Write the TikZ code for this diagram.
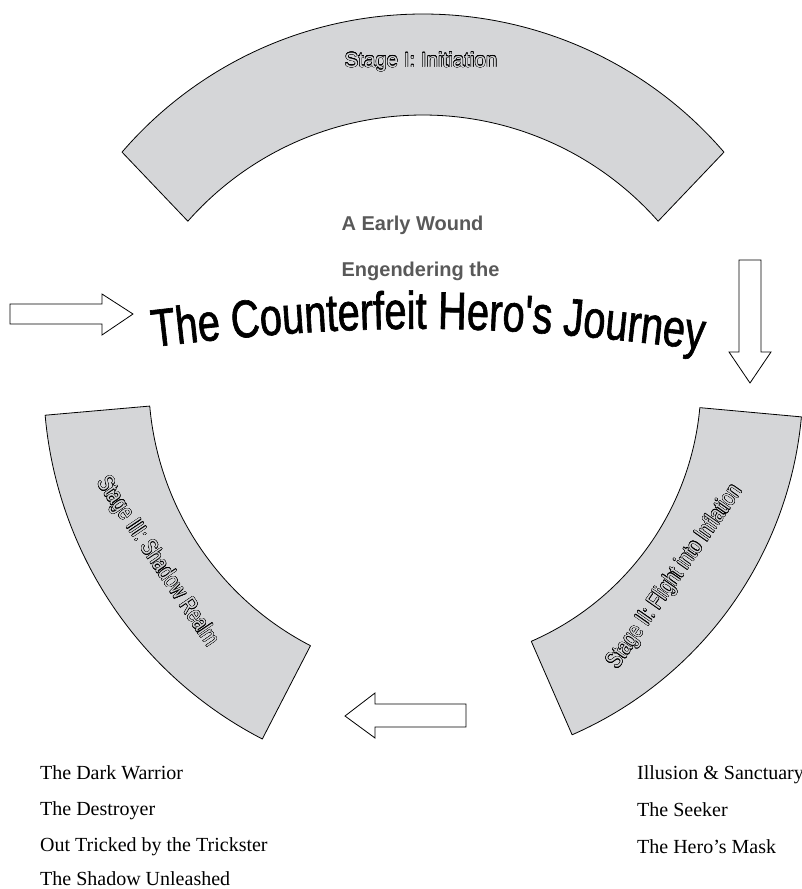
\documentclass[tikz,border=0pt]{standalone}
\usepackage{fontspec}
\setmainfont{Liberation Serif}
\newfontfamily\arialfont{Liberation Sans}
\newfontfamily\narrowfont[FakeStretch=0.75]{Liberation Sans}
\newfontfamily\titlefont[FakeStretch=0.75,FakeBold=1.2]{Liberation Sans}
\usepackage{contour}
\contourlength{0.4pt}
\usetikzlibrary{decorations.text}
\definecolor{arcgray}{HTML}{D5D6D8}
\definecolor{labelgray}{HTML}{595959}
% outlined lettering of the stage names
\newcommand{\hollow}[1]{\contour{black}{\textcolor{arcgray}{#1}}}

\begin{document}
\begin{tikzpicture}[
    x=1pt, y=1pt,
    stage/.style={
		draw=black,
		line width=0.8pt,
		fill=arcgray,
		line join=round
	},
	stagelabel/.style={
		inner sep=0pt,
		font=\narrowfont\fontsize{24}{28}\selectfont
	},
	subtitle/.style={
		inner sep=0pt,
		anchor=base,
		text=labelgray,
		font=\arialfont\bfseries\fontsize{20}{24}\selectfont
	},
	blockarrow/.style={
		draw=black,
		line width=0.8pt,
		fill=white
	},
	item/.style={
		inner sep=0pt,
		anchor=base west,
		font=\fontsize{20}{24}\selectfont
	}
  ]
\useasboundingbox (0,0) rectangle (801,-889);

% // The three stages
\draw [stage] ([shift={(40.7:397)}]423,-411) arc[start angle=40.7, end angle=139.3, radius=397]
  -- ([shift={(138.6:313.5)}]423,-428.5) arc[start angle=138.6, end angle=41.4, radius=313.5] -- cycle;
\draw [stage] ([shift={(-66.4:283)}]418,-382) arc[start angle=-66.4, end angle=-5.2, radius=283]
  -- ([shift={(-5.2:385)}]418,-382) arc[start angle=-5.2, end angle=-66.4, radius=385] -- cycle;
\draw [stage] ([shift={(185:299)}]447.6,-380) arc[start angle=185, end angle=242.7, radius=299]
  -- ([shift={(242.7:404)}]447.6,-380) arc[start angle=242.7, end angle=185, radius=404] -- cycle;

\node [stagelabel, font=\arialfont\fontsize{20.5}{24}\selectfont] (stage1) at (421,-62) {\hollow{Stage I: Initiation}};
\node [stagelabel, rotate=55] (stage2) at (675,-577) {\hollow{Stage II: Flight into Inflation}};
\node [stagelabel, rotate=-56] (stage3) at (157,-562) {\hollow{Stage III: Shadow Realm}};

% // Centre
\node [subtitle] (wound) at (412.5,-230) {A Early Wound};
\node [subtitle] (engender) at (420.5,-276) {Engendering the};
\path [decorate, decoration={text along path, text align=center,
  text={|\titlefont\fontsize{53}{60}\selectfont|The Counterfeit Hero's Journey}}]
  (153,-347) to[bend left=7] (703,-350);

% // Block arrows
\draw [blockarrow] (10,-304) -- (102,-304) -- (102,-294) -- (133,-314) -- (102,-335) -- (102,-324) -- (10,-324) -- cycle;
\draw [blockarrow] (739,-260) -- (761,-260) -- (761,-352) -- (771,-352) -- (750,-383) -- (729,-352) -- (739,-352) -- cycle;
\draw [blockarrow] (466,-704) -- (375,-704) -- (375,-693) -- (345,-716) -- (375,-738) -- (375,-727) -- (466,-727) -- cycle;

% // Figures of each stage
\node [item] (warrior) at (40,-779) {The Dark Warrior};
\node [item] (destroyer) at (40,-815) {The Destroyer};
\node [item] (trickster) at (40,-851) {Out Tricked by the Trickster};
\node [item] (shadow) at (40,-885) {The Shadow Unleashed};

\node [item] (illusion) at (637,-779) {Illusion \& Sanctuary};
\node [item] (seeker) at (637,-816) {The Seeker};
\node [item] (mask) at (637,-853) {The Hero’s Mask};

\end{tikzpicture}
\end{document}
